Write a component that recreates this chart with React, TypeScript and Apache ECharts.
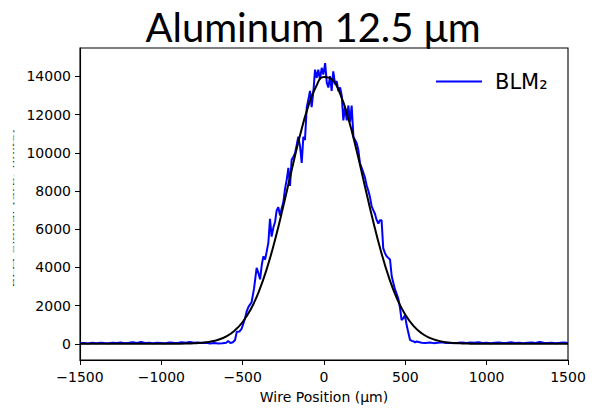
import React, { useEffect, useRef } from 'react';
import * as echarts from 'echarts';

const xTicks = [-1500, -1000, -500, 0, 500, 1000, 1500];
const yTicks = [0, 2000, 4000, 6000, 8000, 10000, 12000, 14000];

const blmX = [
  -1500, -1475, -1450, -1425, -1400, -1375, -1350, -1325, -1300, -1275, -1250, -1225,
  -1200, -1175, -1150, -1125, -1100, -1075, -1050, -1025, -1000, -975, -950, -925,
  -900, -875, -850, -825, -800, -775, -750, -725, -700, -675, -650, -625,
  -600, -590, -575, -560, -547, -536, -520, -506, -496, -486, -475, -465, -455, -445,
  -430, -414, -403, -393, -383, -373, -362, -352, -342, -332, -322, -311, -301, -291,
  -281, -270, -260, -250, -240, -229, -219, -209, -199, -188, -178, -168, -158, -147,
  -137, -127, -117, -106, -96, -86, -76, -65, -55, -45, -35, -25, -14, -4, 7, 17, 27,
  37, 47, 57, 68, 78, 88, 99, 109, 119, 129, 140, 150, 160, 170, 181, 191, 201, 211,
  221, 232, 242, 252, 262, 273, 283, 293, 303, 313, 323, 334, 344, 354, 364, 375, 385,
  395, 406, 416, 426, 436, 447, 457, 467, 477, 488, 498, 508, 518, 529, 540, 550, 560,
  570, 600, 625, 650, 675, 700, 725, 750, 775, 800, 825, 850, 875, 900, 925, 950, 975,
  1000, 1025, 1050, 1075, 1100, 1125, 1150, 1175, 1200, 1225, 1250, 1275, 1300, 1325,
  1350, 1375, 1400, 1425, 1450, 1475, 1500,
];
const blmY = [
  30, 45, 20, 50, 35, 60, 40, 25, 55, 40, 70, 35,
  50, 80, 45, 90, 40, 55, 35, 60, 45, 30, 70, 50,
  40, 85, 60, 90, 55, 70, 45, 60, 20, 40, 10, 30,
  60, 150, 40, 80, 200, 630, 640, 800, 1060, 1320, 1700, 1920, 2050, 2180,
  2900, 3980, 3700, 3380, 4100, 4580, 4410, 4840, 5300, 6550, 5610, 6100, 6380, 6980,
  7150, 6720, 7100, 7410, 8100, 8600, 9210, 8270, 9640, 9800, 9980, 10400, 10840, 10330,
  9470, 10840, 10670, 12390, 12800, 13240, 12390, 13240, 14360, 13930, 14360, 13850, 14450, 14100, 14700, 13680, 13420,
  14020, 13240, 14270, 13590, 13760, 13240, 13420, 12990, 11700, 12390, 11700, 12480, 11610, 12480, 10840, 10670, 10500, 10150,
  9470, 9200, 8960, 8700, 8300, 8000, 7670, 7200, 7000, 6810, 6500, 6300, 6470, 6470, 5010, 4750, 4580,
  4500, 4410, 3550, 3200, 2860, 2600, 2350, 1900, 1240, 1350, 1490, 980, 600, 200, 150, 130, 80,
  120, 60, 40, 70, 35, 55, 80, 45, 60, 30, 50, 75, 40, 65, 50, 85, 45,
  60, 35, 55, 70, 40, 50, 80, 45, 60, 35, 50, 65, 40, 90,
  55, 45, 60, 35, 50, 70, 40,
];

const fitX = [
  -1500, -1050, -1000, -950, -900, -850, -800, -750, -700, -650, -600, -550, -500, -450,
  -400, -350, -300, -250, -200, -150, -100, -50, 0, 50, 100, 150, 200, 250, 300, 350,
  400, 450, 500, 550, 600, 650, 700, 750, 800, 850, 900, 950, 1000, 1050, 1500,
];
const fitY = [
  0, 0, 1, 2, 5, 12, 26, 55, 112, 214, 392, 686, 1141, 1813,
  2750, 3975, 5481, 7210, 9044, 10823, 12355, 13452, 13970, 13839, 13076, 11785, 10130, 8308, 6497, 4847,
  3450, 2341, 1516, 936, 551, 310, 166, 85, 41, 19, 9, 4, 1, 0, 0,
];

const FONT = 'DejaVu Sans';
const minus = (v: number) => String(v).replace('-', '\u2212');

export default function App() {
  const ref = useRef<HTMLDivElement>(null);
  useEffect(() => {
    const chart = echarts.init(ref.current!, null, { renderer: 'svg' });
    const blmData = blmX.map((x, i) => [x, blmY[i]]);
    const fitData = fitX.map((x, i) => [x, fitY[i]]);
    chart.setOption({
      animation: false,
      backgroundColor: '#fff',
      grid: {
        left: 80, right: 34, top: 48, bottom: 43,
        show: true, borderColor: '#000', borderWidth: 1.1, backgroundColor: 'transparent',
      },
      legend: {
        data: [{ name: 'BLM₂', icon: 'rect', itemStyle: { color: '#0000ff' } }],
        left: 431, top: 66,
        itemWidth: 46, itemHeight: 2.2,
        textStyle: { fontSize: 21, fontFamily: FONT, color: '#000', padding: [0, 0, 0, 8] },
      },
      xAxis: {
        type: 'value', min: -1500, max: 1500, interval: 500,
        axisLine: { show: true, onZero: false, lineStyle: { color: '#000', width: 1.1 } },
        axisTick: { show: true, inside: false, length: 5, lineStyle: { color: '#000' }, customValues: xTicks },
        axisLabel: { color: '#000', fontSize: 14, fontFamily: FONT, margin: 10, formatter: minus, customValues: xTicks },
        splitLine: { show: false },
        name: 'Wire Position (μm)', nameLocation: 'middle', nameGap: 30,
        nameTextStyle: { fontSize: 14, fontFamily: FONT, color: '#000' },
      },
      yAxis: {
        type: 'value', min: -848, max: 15490,
        axisLine: { show: true, onZero: false, lineStyle: { color: '#000', width: 1.1 } },
        axisTick: { show: true, inside: false, length: 5, lineStyle: { color: '#000' }, customValues: yTicks },
        axisLabel: { color: '#000', fontSize: 14, fontFamily: FONT, margin: 9, formatter: minus, customValues: yTicks },
        splitLine: { show: false },
      },
      series: [
        {
          type: 'line', name: 'BLM₂', data: blmData, symbol: 'none', showSymbol: false,
          lineStyle: { color: '#0000ff', width: 2 }, itemStyle: { color: '#0000ff' }, z: 2,
        },
        {
          type: 'line', name: 'Fit', data: fitData, symbol: 'none', showSymbol: false, smooth: true,
          lineStyle: { color: '#000', width: 2 }, itemStyle: { color: '#000' }, z: 3,
        },
      ],
      graphic: [
        {
          type: 'text', x: 313, y: 27,
          style: {
            text: 'Aluminum 12.5 μm', font: '40px Lato', fill: '#000',
            align: 'center', verticalAlign: 'middle',
          },
        },
        {
          type: 'text', x: 13, y: 208, rotation: Math.PI / 2, scaleY: 0.13,
          style: {
            text: 'BLM Signal (arb. units)', font: '14px "DejaVu Sans"', fill: '#000',
            align: 'center', verticalAlign: 'middle',
          },
        },
      ],
    });
    return () => chart.dispose();
  }, []);
  return <div ref={ref} style={{ position: 'fixed', left: 0, top: 0, width: 602, height: 409 }} />;
}
